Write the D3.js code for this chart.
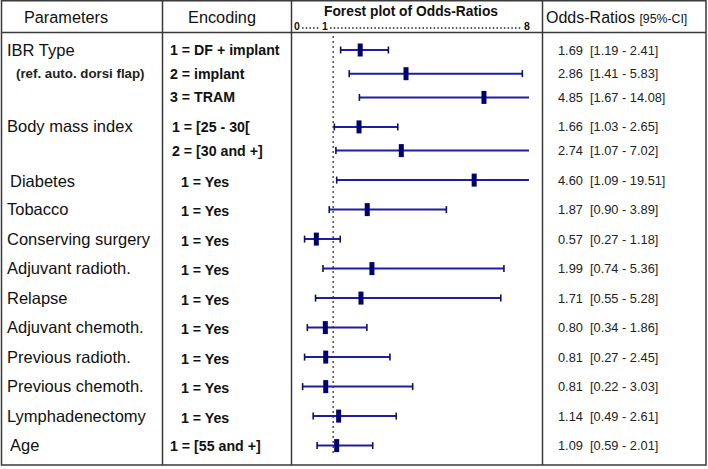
<!DOCTYPE html>
<html><head><meta charset="utf-8">
<script src="https://cdn.jsdelivr.net/npm/d3@7"></script>
<style>
html,body{margin:0;padding:0;background:#fff;}
svg{display:block;font-family:Arial,"Liberation Sans",sans-serif;}
</style></head>
<body>
<svg id="chart" width="708" height="469"></svg>
<script>
// ---- data ----
const groups = ["IBR Type","IBR Type","IBR Type","Body mass index","Body mass index","Diabetes","Tobacco","Conserving surgery","Adjuvant radioth.","Relapse","Adjuvant chemoth.","Previous radioth.","Previous chemoth.","Lymphadenectomy","Age"];
const encodings = ["1 = DF + implant","2 = implant","3 = TRAM","1 = [25 - 30[","2 = [30 and +]","1 = Yes","1 = Yes","1 = Yes","1 = Yes","1 = Yes","1 = Yes","1 = Yes","1 = Yes","1 = Yes","1 = [55 and +]"];
const oddsRatios = [1.69,2.86,4.85,1.66,2.74,4.60,1.87,0.57,1.99,1.71,0.80,0.81,0.81,1.14,1.09];
const ciLower = [1.19,1.41,1.67,1.03,1.07,1.09,0.90,0.27,0.74,0.55,0.34,0.27,0.22,0.49,0.59];
const ciUpper = [2.41,5.83,14.08,2.65,7.02,19.51,3.89,1.18,5.36,5.28,1.86,2.45,3.03,2.61,2.01];
const headers = ["Parameters","Encoding","Forest plot of Odds-Ratios","Odds-Ratios"];
const headerTicks = ["0","1","8"];
const subNote = "(ref. auto. dorsi flap)";

// ---- layout ----
const svg = d3.select("#chart");
const W = 706, H = 465;
const colX = [1.5, 162.5, 291.5, 542.5, W];
const headerY = 32.5;
const xMax = 6;
const x = d3.scaleLinear().domain([0, xMax]).range([294, 529]);

// row y positions: smaller step within a group
const rowY = [];
let yy = 50;
groups.forEach((g,i)=>{
  if(i>0) yy += (g===groups[i-1]) ? 23.7 : 29.5;
  rowY.push(yy);
});

const lineCol = "#1e1ea0";
const boxCol = "#00006e";
const border = "#3a3a3a";

// table lines
svg.append("rect").attr("x",colX[0]).attr("y",0.75).attr("width",W-colX[0]).attr("height",H-0.75)
  .attr("fill","none").attr("stroke",border).attr("stroke-width",1.5);
svg.append("line").attr("x1",colX[0]).attr("x2",W).attr("y1",headerY).attr("y2",headerY)
  .attr("stroke",border).attr("stroke-width",1.5);
[colX[1],colX[2],colX[3]].forEach(cx=>{
  svg.append("line").attr("x1",cx).attr("x2",cx).attr("y1",0).attr("y2",H)
    .attr("stroke",border).attr("stroke-width",1.5);
});

// headers
svg.append("text").attr("x",66).attr("y",23).attr("text-anchor","middle")
  .attr("font-size",16.3).attr("fill","#111").text(headers[0]);
svg.append("text").attr("x",222).attr("y",23).attr("text-anchor","middle")
  .attr("font-size",16.3).attr("fill","#111").text(headers[1]);
svg.append("text").attr("x",411).attr("y",15.5).attr("text-anchor","middle")
  .attr("font-size",13.8).attr("font-weight","bold").attr("fill","#111").text(headers[2]);
const hdr = svg.append("text").attr("x",546).attr("y",23).attr("font-size",16).attr("fill","#111");
hdr.append("tspan").text(headers[3]+" ");
hdr.append("tspan").attr("font-size",12.3).text("[95%-CI]");

// header mini axis
const tickX = [297, 325, 527];
headerTicks.forEach((t,i)=>{
  svg.append("text").attr("x",tickX[i]).attr("y",29.5).attr("text-anchor","middle")
    .attr("font-size",10.5).attr("font-weight","bold").attr("fill","#111").text(t);
});
[[302,319],[330,522]].forEach(s=>{
  svg.append("line").attr("x1",s[0]).attr("x2",s[1]).attr("y1",28).attr("y2",28)
    .attr("stroke","#222").attr("stroke-width",1.5).attr("stroke-dasharray","1.5,2.2");
});

// parameter labels (first row of each group)
groups.forEach((g,i)=>{
  if(i>0 && g===groups[i-1]) return;
  svg.append("text").attr("x", g==="Diabetes"||g==="Age" ? 10 : 7).attr("y",rowY[i]+(g==="Diabetes"?7:5.5))
    .attr("font-size",16.5).attr("fill","#111").text(g);
});
svg.append("text").attr("x",16).attr("y",rowY[1]+4.5).attr("font-size",13.3)
  .attr("font-weight","bold").attr("fill","#222").text(subNote);

// encodings
encodings.forEach((e,i)=>{
  svg.append("text").attr("x", e==="1 = Yes" ? 181 : (groups[i]==="Body mass index"?172:170))
    .attr("y",rowY[i]+(e==="1 = Yes"?6.5:5))
    .attr("font-size",14.2).attr("font-weight","bold").attr("fill","#111").text(e);
});

// reference line at OR = 1
svg.append("line").attr("x1",x(1)).attr("x2",x(1)).attr("y1",36).attr("y2",456)
  .attr("stroke","#4a3c34").attr("stroke-width",1.4).attr("stroke-dasharray","2,3");

// forest marks
const g = svg.append("g");
oddsRatios.forEach((or,i)=>{
  const y = rowY[i];
  const lo = ciLower[i], hi = ciUpper[i];
  const x1 = x(lo), x2 = x(Math.min(hi, xMax));
  g.append("line").attr("x1",x1).attr("x2",x2).attr("y1",y).attr("y2",y)
    .attr("stroke",lineCol).attr("stroke-width",2);
  g.append("line").attr("x1",x1).attr("x2",x1).attr("y1",y-3.5).attr("y2",y+3.5)
    .attr("stroke","#101060").attr("stroke-width",1.6);
  if(hi <= xMax){
    g.append("line").attr("x1",x2).attr("x2",x2).attr("y1",y-3.5).attr("y2",y+3.5)
      .attr("stroke","#101060").attr("stroke-width",1.6);
  }
  g.append("rect").attr("x",x(or)-2.5).attr("y",y-6.5).attr("width",5).attr("height",13)
    .attr("fill",boxCol);
});

// OR text
const fmt = d3.format(".2f");
oddsRatios.forEach((or,i)=>{
  svg.append("text").attr("x",558).attr("y",rowY[i]+4.5).attr("font-size",12.8)
    .attr("fill","#222").attr("xml:space","preserve")
    .text(fmt(or)+"  ["+fmt(ciLower[i])+" - "+fmt(ciUpper[i])+"]");
});
</script>
</body></html>
